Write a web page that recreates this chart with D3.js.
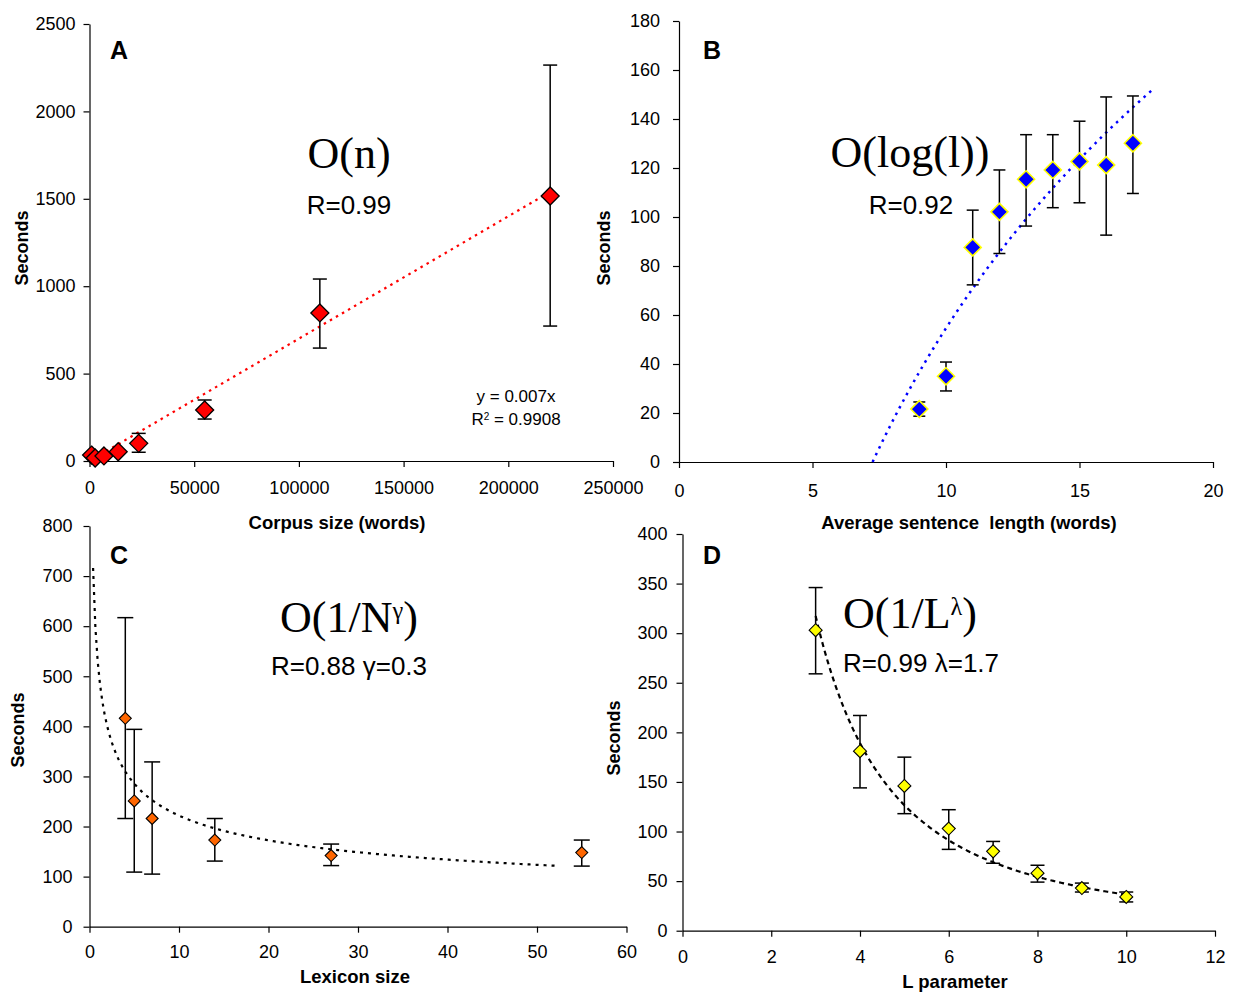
<!DOCTYPE html>
<html><head><meta charset="utf-8">
<script src="https://cdn.jsdelivr.net/npm/d3@7"></script>
<style>
body{margin:0;background:#fff;}
svg text{font-family:Arial,"Liberation Sans",sans-serif;fill:#000;}
.serif{font-family:"Liberation Serif","Times New Roman",serif;}
</style></head>
<body>
<svg id="c" width="1233" height="995"></svg>
<script>
// ---------- Panel A: corpus size ----------
const corpusSize    = [1000, 2700, 6900, 13700, 23500, 55000, 110000, 220000];
const corpusSeconds = [34, 17, 29, 53, 101, 292, 847, 1516];
const corpusErrLow  = [24, 8, 19, 43, 50, 240, 646, 772];
const corpusErrHigh = [44, 26, 39, 63, 158, 349, 1041, 2265];
const corpusTicksX  = [0, 50000, 100000, 150000, 200000, 250000];
const corpusTicksY  = [0, 500, 1000, 1500, 2000, 2500];
const corpusSlope   = 0.007;           // trend: y = 0.007x
const corpusTrendRange = [8000, 220000];

// ---------- Panel B: sentence length ----------
const sentLen       = [9, 10, 11, 12, 13, 14, 15, 16, 17];
const sentSeconds   = [21.6, 35.0, 87.6, 102.1, 115.4, 119.2, 122.7, 121.2, 130.1];
const sentErrLow    = [18.7, 29.0, 72.3, 85.1, 96.3, 103.8, 105.8, 92.6, 109.6];
const sentErrHigh   = [24.5, 40.8, 102.8, 119.2, 133.6, 133.6, 139.1, 149.0, 149.4];
const sentTicksX    = [0, 5, 10, 15, 20];
const sentTicksY    = [0, 20, 40, 60, 80, 100, 120, 140, 160, 180];
const sentLogA = 169.9, sentLogB = -336.6;   // trend: y = a*ln(x) + b
const sentTrendRange = [7.25, 17.8];

// ---------- Panel C: lexicon size ----------
const lexSize       = [4, 5, 7, 14, 27, 55];
const lexSeconds    = [416, 251, 216, 173, 142, 148];
const lexErrLow     = [216, 109, 105, 131, 122, 121];
const lexErrHigh    = [617, 394, 329, 216, 165, 173];
const lexTicksX     = [0, 10, 20, 30, 40, 50, 60];
const lexTicksY     = [0, 100, 200, 300, 400, 500, 600, 700, 800];
const lexPowA = 513, lexPowB = 0.364;        // trend: y = a*x^-b
const lexTrendRange = [0.4, 52];

// ---------- Panel D: L parameter ----------
const lParam        = [3, 4, 5, 6, 7, 8, 9, 10];
const lSeconds      = [303, 181, 146, 103, 80, 58, 43, 34];
const lErrLow       = [259, 144, 118, 82, 68, 49, 39, 29];
const lErrHigh      = [346, 217, 175, 122, 90, 66, 48, 39];
const lTicksX       = [0, 2, 4, 6, 8, 10, 12];
const lTicksY       = [0, 50, 100, 150, 200, 250, 300, 350, 400];
const lPowA = 2293, lPowB = 1.8;             // trend: y = a*x^-b
const lTrendRange = [3, 10];

const svg = d3.select("#c");

function panel(cfg){
  const g = svg.append("g");
  const x = d3.scaleLinear().domain(cfg.xDomain).range([cfg.left, cfg.right]);
  const y = d3.scaleLinear().domain(cfg.yDomain).range([cfg.bottom, cfg.top]);
  const xa = g.append("g").attr("transform",`translate(0,${cfg.bottom})`)
    .call(d3.axisBottom(x).tickValues(cfg.ticksX).tickFormat(d3.format("d")).tickSize(6).tickSizeOuter(0).tickPadding(cfg.xPad));
  const ya = g.append("g").attr("transform",`translate(${cfg.left},0)`)
    .call(d3.axisLeft(y).tickValues(cfg.ticksY).tickFormat(d3.format("d")).tickSize(6).tickSizeOuter(0).tickPadding(cfg.yPad));
  [xa,ya].forEach(a=>{
    a.selectAll("text").style("font-size","18px").attr("fill","#000");
    a.selectAll("line,path").attr("stroke","#000").attr("stroke-width",1.2);
    a.attr("font-family",null);
  });
  const tx = d3.range(0, 201).map(i => cfg.trendRange[0] + (cfg.trendRange[1]-cfg.trendRange[0])*i/200);
  g.append("path")
    .attr("d", d3.line().x(d=>x(d)).y(d=>y(cfg.trend(d)))(tx))
    .attr("fill","none").attr("stroke",cfg.trendColor).attr("stroke-width",cfg.trendWidth)
    .attr("stroke-dasharray",cfg.trendDash);
  const eb = g.append("g").attr("stroke","#000").attr("stroke-width",1.5);
  cfg.xs.forEach((xv,i)=>{
    const px = x(xv);
    eb.append("line").attr("x1",px).attr("x2",px).attr("y1",y(cfg.lo[i])).attr("y2",y(cfg.hi[i]));
    eb.append("line").attr("x1",px-cfg.cap).attr("x2",px+cfg.cap).attr("y1",y(cfg.lo[i])).attr("y2",y(cfg.lo[i]));
    eb.append("line").attr("x1",px-cfg.cap).attr("x2",px+cfg.cap).attr("y1",y(cfg.hi[i])).attr("y2",y(cfg.hi[i]));
  });
  const r = cfg.marker;
  g.append("g").selectAll("path").data(cfg.xs).join("path")
    .attr("d",(d,i)=>{const px=x(d),py=y(cfg.ys[i]);return `M${px},${py-r}L${px+r},${py}L${px},${py+r}L${px-r},${py}Z`;})
    .attr("fill",cfg.fill).attr("stroke",cfg.stroke).attr("stroke-width",cfg.strokeW);
  g.append("text").attr("x",cfg.letterX).attr("y",cfg.letterY).text(cfg.letter)
    .style("font-size","25px").style("font-weight","bold");
  g.append("text").attr("x",cfg.xtX).attr("y",cfg.xtY).attr("text-anchor","middle")
    .style("font-size","18.5px").style("font-weight","bold").style("white-space","pre").text(cfg.xTitle);
  g.append("text").attr("transform",`translate(${cfg.ytX},${cfg.ytY}) rotate(-90)`).attr("text-anchor","middle")
    .style("font-size","18px").style("font-weight","bold").text("Seconds");
  return {g,x,y};
}

panel({left:89.5,right:613,top:24,bottom:461,xDomain:[0,250000],yDomain:[0,2500],
  ticksX:corpusTicksX,ticksY:corpusTicksY,xPad:14,yPad:8,
  xs:corpusSize,ys:corpusSeconds,lo:corpusErrLow,hi:corpusErrHigh,cap:7,
  trend:d=>corpusSlope*d,trendRange:corpusTrendRange,trendColor:"#ff0000",trendWidth:2.2,trendDash:"2.5,4.5",
  marker:9,fill:"#ff0000",stroke:"#000",strokeW:1.3,
  letter:"A",letterX:110,letterY:59,xTitle:"Corpus size (words)",xtX:337,xtY:529,ytX:28,ytY:248});
panel({left:679,right:1213,top:21,bottom:462,xDomain:[0,20],yDomain:[0,180],
  ticksX:sentTicksX,ticksY:sentTicksY,xPad:16,yPad:13,
  xs:sentLen,ys:sentSeconds,lo:sentErrLow,hi:sentErrHigh,cap:6,
  trend:d=>sentLogA*Math.log(d)+sentLogB,trendRange:sentTrendRange,trendColor:"#0000ff",trendWidth:2.5,trendDash:"2.5,5",
  marker:8.5,fill:"#0000ff",stroke:"#ffff00",strokeW:1.6,
  letter:"B",letterX:703,letterY:59,xTitle:"Average sentence  length (words)",xtX:969,xtY:529,ytX:610,ytY:248});
panel({left:89.5,right:626.5,top:526,bottom:926.7,xDomain:[0,60],yDomain:[0,800],
  ticksX:lexTicksX,ticksY:lexTicksY,xPad:13,yPad:11,
  xs:lexSize,ys:lexSeconds,lo:lexErrLow,hi:lexErrHigh,cap:8,
  trend:d=>lexPowA*Math.pow(d,-lexPowB),trendRange:lexTrendRange,trendColor:"#000",trendWidth:2.2,trendDash:"3,5",
  marker:6,fill:"#ff6600",stroke:"#000",strokeW:1.1,
  letter:"C",letterX:110,letterY:564,xTitle:"Lexicon size",xtX:355,xtY:983,ytX:24,ytY:730});
panel({left:682.5,right:1215,top:534,bottom:930.7,xDomain:[0,12],yDomain:[0,400],
  ticksX:lTicksX,ticksY:lTicksY,xPad:14,yPad:9,
  xs:lParam,ys:lSeconds,lo:lErrLow,hi:lErrHigh,cap:7,
  trend:d=>lPowA*Math.pow(d,-lPowB),trendRange:lTrendRange,trendColor:"#000",trendWidth:2.2,trendDash:"5,4",
  marker:6.5,fill:"#ffff00",stroke:"#000",strokeW:1.1,
  letter:"D",letterX:703,letterY:564,xTitle:"L parameter",xtX:955,xtY:988,ytX:620,ytY:738});

function big(x,y,parts,size){
  const t=svg.append("text").attr("class","serif").attr("x",x).attr("y",y).attr("text-anchor","middle")
    .style("font-size",size+"px").style("font-family",'"Liberation Serif","Times New Roman",serif');
  parts.forEach(p=>{
    const s=t.append("tspan").text(p.t);
    if(p.sup) s.attr("baseline-shift","super").style("font-size",(size*0.55)+"px");
  });
}
function mid(x,y,txt,size){
  svg.append("text").attr("x",x).attr("y",y).attr("text-anchor","middle").style("font-size",size+"px").text(txt);
}
big(349,168,[{t:"O(n)"}],44);
mid(349,214,"R=0.99",26);
big(910,167,[{t:"O(log(l))"}],44);
mid(911,214,"R=0.92",26);
big(349,632,[{t:"O(1/N"},{t:"γ",sup:true},{t:")"}],44);
mid(349,675,"R=0.88 γ=0.3",26);
big(910,628,[{t:"O(1/L"},{t:"λ",sup:true},{t:")"}],44);
mid(921,672,"R=0.99 λ=1.7",26);
mid(516,402,"y = 0.007x",17);
const r2=svg.append("text").attr("x",516).attr("y",425).attr("text-anchor","middle").style("font-size","17px");
r2.append("tspan").text("R");
r2.append("tspan").text("2").attr("baseline-shift","super").style("font-size","10px");
r2.append("tspan").text(" = 0.9908");
</script>
</body></html>
